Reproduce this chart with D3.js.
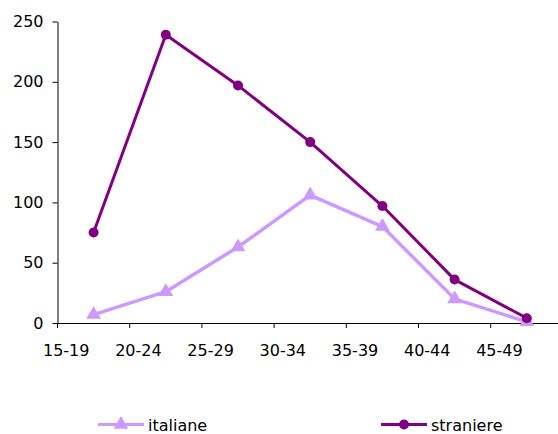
<!DOCTYPE html>
<html>
<head>
<meta charset="utf-8">
<script src="https://cdn.jsdelivr.net/npm/d3@7"></script>
<style>
  html, body { margin: 0; padding: 0; background: #fff; }
  svg { display: block; font-family: "DejaVu Sans", Verdana, sans-serif; }
</style>
</head>
<body>
<svg id="chart" width="558" height="434"></svg>
<script>
// Age groups and births by mother's citizenship
const categories = ["15-19", "20-24", "25-29", "30-34", "35-39", "40-44", "45-49"];
const italiane = [7, 26, 63, 106, 80, 20, 1];
const straniere = [75, 239, 197, 150, 97, 36, 4];
const yTicks = [0, 50, 100, 150, 200, 250];

const colItaliane = "#CC99FF";
const colStraniere = "#800080";

const svg = d3.select("#chart");
const plotLeft = 57.5, plotBottom = 323, plotTop = 21.5;
const bandW = 72.2;

const x = d3.scaleBand().domain(categories).range([plotLeft, plotLeft + bandW * categories.length]).padding(0);
const y = d3.scaleLinear().domain([0, 250]).range([plotBottom, plotTop]);
const cx = d => x(d) + x.bandwidth() / 2;

// Y axis
const yAxis = svg.append("g")
  .attr("transform", `translate(${plotLeft},0)`)
  .call(d3.axisLeft(y).tickValues(yTicks).tickSize(5).tickPadding(9).tickSizeOuter(0));
yAxis.select(".domain").attr("stroke", "#000");
yAxis.selectAll(".tick line").attr("stroke", "#000");
yAxis.selectAll("text").attr("font-size", 16).attr("fill", "#000")
  .attr("font-family", "DejaVu Sans, Verdana, sans-serif");

// X axis: tick marks sit on category boundaries
const xAxis = svg.append("g")
  .attr("transform", `translate(0,${plotBottom})`)
  .call(d3.axisBottom(x).tickSize(5).tickSizeOuter(0));
xAxis.select(".domain").attr("stroke", "#000");
xAxis.selectAll(".tick line")
  .attr("stroke", "#000")
  .attr("transform", `translate(${-x.bandwidth() / 2},0)`);
xAxis.selectAll("text")
  .attr("font-size", 16).attr("fill", "#000")
  .attr("font-family", "DejaVu Sans, Verdana, sans-serif")
  .attr("y", 21.3)
  .attr("x", -x.bandwidth() / 2 + 8.7);

const line = d3.line().x((d, i) => cx(categories[i])).y(d => y(d));

// italiane series
svg.append("path").datum(italiane)
  .attr("fill", "none").attr("stroke", colItaliane).attr("stroke-width", 3.5)
  .attr("stroke-linejoin", "round")
  .attr("d", line);
const tri = d3.symbol().type(d3.symbolTriangle).size(95);
svg.append("g").selectAll("path").data(italiane).join("path")
  .attr("d", tri)
  .attr("fill", colItaliane)
  .attr("transform", (d, i) => `translate(${cx(categories[i])},${y(d)})`);

// straniere series
svg.append("path").datum(straniere)
  .attr("fill", "none").attr("stroke", colStraniere).attr("stroke-width", 3)
  .attr("stroke-linejoin", "round")
  .attr("d", line);
svg.append("g").selectAll("circle").data(straniere).join("circle")
  .attr("cx", (d, i) => cx(categories[i]))
  .attr("cy", d => y(d))
  .attr("r", 5)
  .attr("fill", colStraniere);

// Legend
const legendY = 424.5;
const legend = [
  { name: "italiane", color: colItaliane, x0: 98, marker: "tri" },
  { name: "straniere", color: colStraniere, x0: 381, marker: "circle" }
];
legend.forEach(l => {
  const g = svg.append("g");
  g.append("line")
    .attr("x1", l.x0).attr("x2", l.x0 + 46)
    .attr("y1", legendY).attr("y2", legendY)
    .attr("stroke", l.color).attr("stroke-width", 3);
  if (l.marker === "tri") {
    g.append("path").attr("d", tri).attr("fill", l.color)
      .attr("transform", `translate(${l.x0 + 23},${legendY})`);
  } else {
    g.append("circle").attr("cx", l.x0 + 23).attr("cy", legendY).attr("r", 5).attr("fill", l.color);
  }
  g.append("text")
    .attr("x", l.x0 + 50).attr("y", 431)
    .attr("font-size", 16).attr("fill", "#000")
    .text(l.name);
});
</script>
</body>
</html>
